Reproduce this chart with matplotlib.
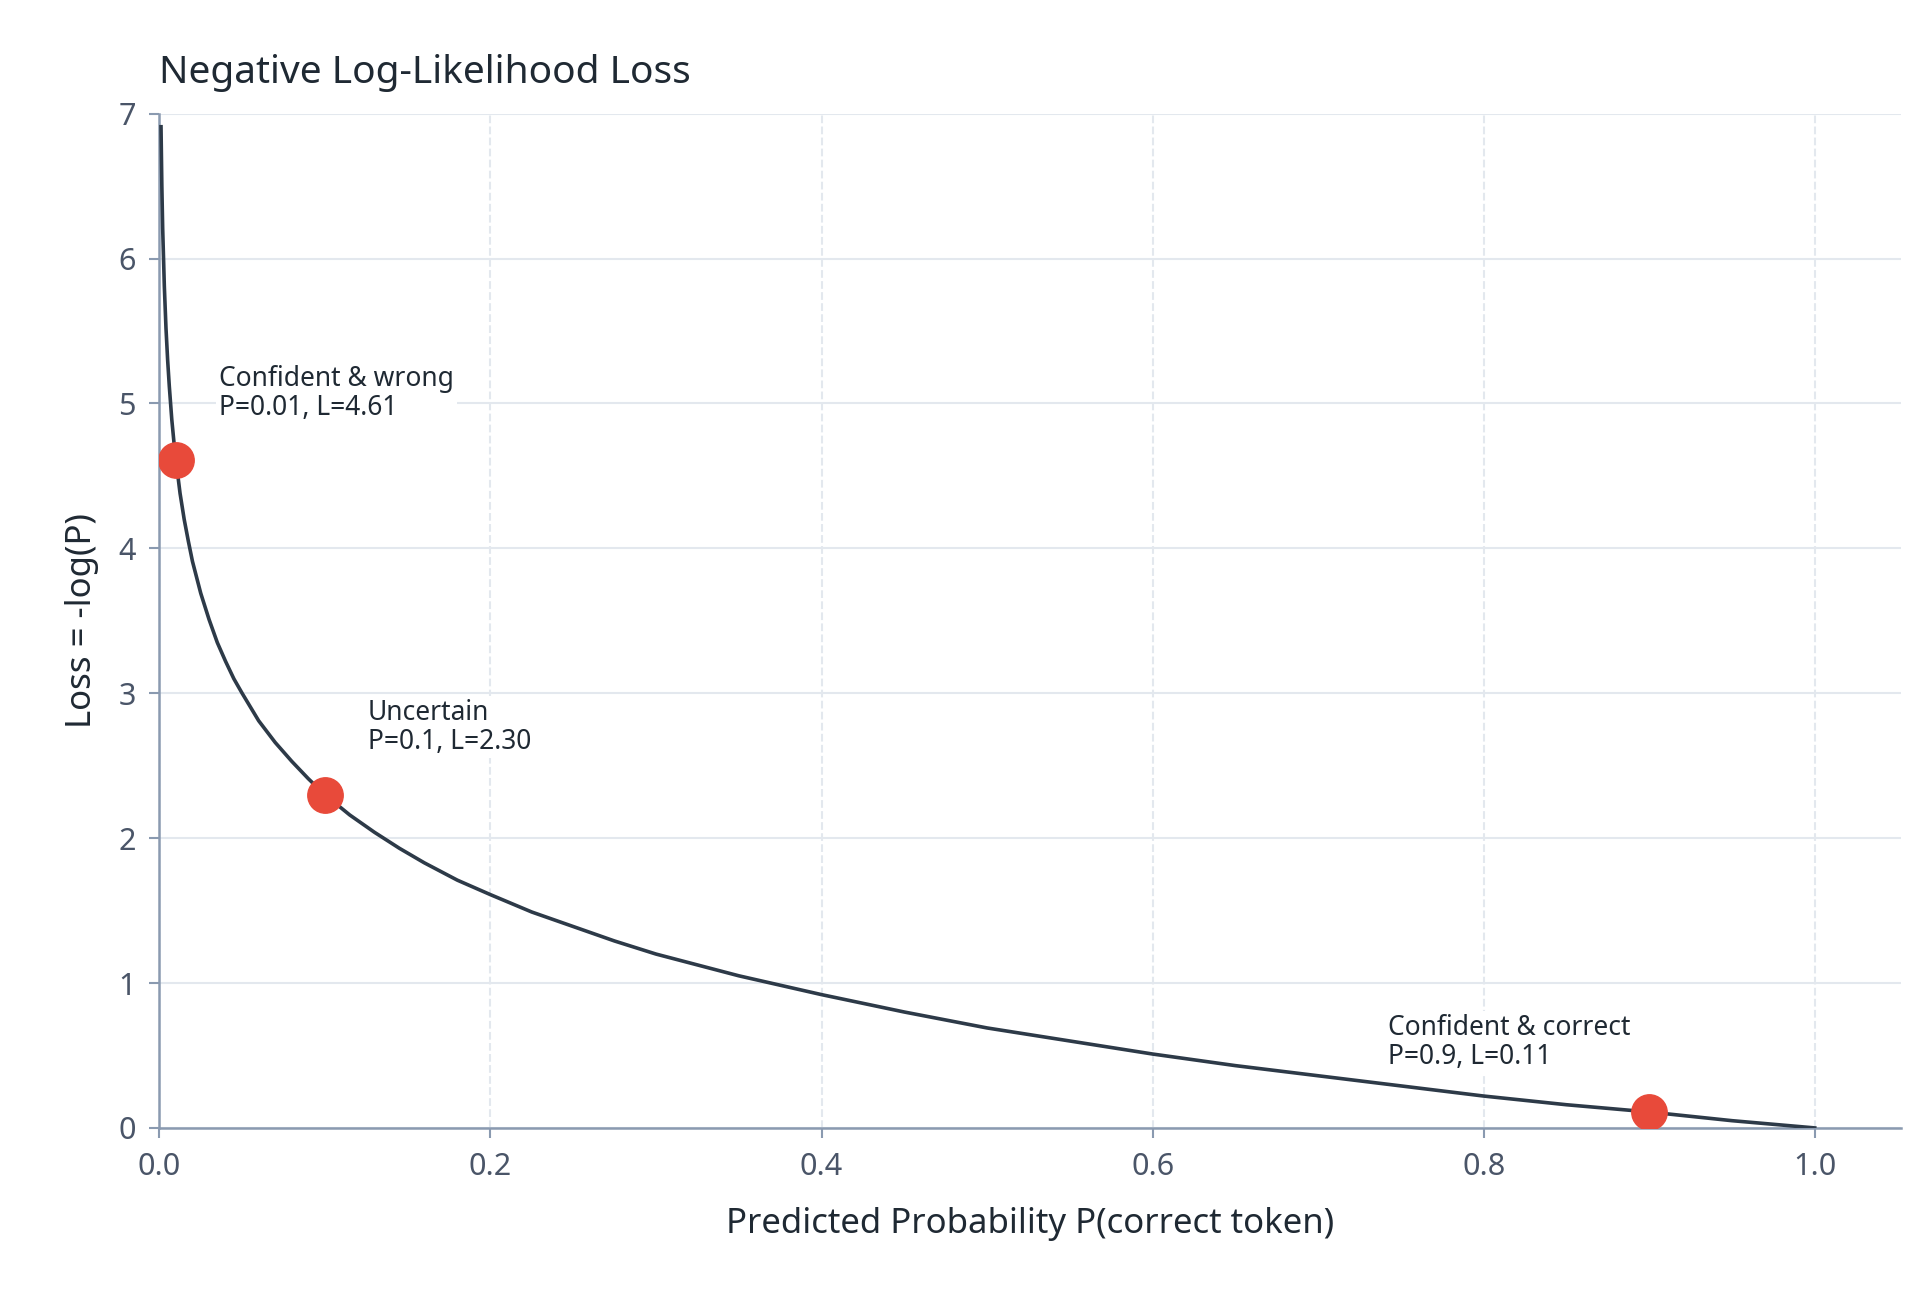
import matplotlib
matplotlib.use("Agg")
import matplotlib.pyplot as plt

plt.rcParams['font.family'] = ['Noto Sans', 'DejaVu Sans']

# Curve points (loss = -log(P))
p_vals = [0.001, 0.0015, 0.002, 0.003, 0.004, 0.005, 0.006, 0.0075, 0.009, 0.01, 0.0125,
          0.015, 0.0175, 0.02, 0.025, 0.03, 0.035, 0.04, 0.045, 0.05, 0.06, 0.07, 0.08,
          0.09, 0.1, 0.115, 0.13, 0.145, 0.16, 0.18, 0.2, 0.225, 0.25, 0.275, 0.3, 0.35,
          0.4, 0.45, 0.5, 0.55, 0.6, 0.65, 0.7, 0.75, 0.8, 0.85, 0.9, 0.95, 1.0]
loss_vals = [6.91, 6.50, 6.21, 5.81, 5.52, 5.30, 5.12, 4.89, 4.71, 4.61, 4.38,
             4.20, 4.05, 3.91, 3.69, 3.51, 3.35, 3.22, 3.10, 3.00, 2.81, 2.66, 2.53,
             2.41, 2.30, 2.16, 2.04, 1.93, 1.83, 1.71, 1.61, 1.49, 1.39, 1.29, 1.20, 1.05,
             0.92, 0.80, 0.69, 0.60, 0.51, 0.43, 0.36, 0.29, 0.22, 0.16, 0.11, 0.05, 0.0]

point_p = [0.01, 0.1, 0.9]
point_loss = [4.61, 2.30, 0.11]
point_labels = ["Confident & wrong\nP=0.01, L=4.61",
                "Uncertain\nP=0.1, L=2.30",
                "Confident & correct\nP=0.9, L=0.11"]
label_pos = [(0.036, 4.87), (0.126, 2.57), (0.742, 0.39)]

fig = plt.figure(figsize=(19.2, 12.92), dpi=100)
ax = fig.add_axes([0.083, 0.127, 0.907, 0.785])

ax.plot(p_vals, loss_vals, color="#2d3a48", linewidth=2.6, zorder=3)
ax.scatter(point_p, point_loss, s=650, color="#e84a3a", zorder=4)
for (x, y), txt in zip(label_pos, point_labels):
    ax.text(x, y, txt, fontsize=19, color="#1f2933", va="bottom", ha="left",
            linespacing=1.05, bbox=dict(facecolor="white", edgecolor="none", pad=2))

ax.set_xlim(0, 1.052)
ax.set_ylim(0, 7)
ax.set_xticks([0.0, 0.2, 0.4, 0.6, 0.8, 1.0])
ax.set_yticks(range(8))
ax.grid(axis="y", color="#e3e8ee", linewidth=1.5)
ax.grid(axis="x", color="#e3e8ee", linewidth=1.5, linestyle="--")
ax.set_axisbelow(True)
for s in ["top", "right"]:
    ax.spines[s].set_visible(False)
for s in ["left", "bottom"]:
    ax.spines[s].set_color("#8a9ab0")
    ax.spines[s].set_linewidth(1.8)
ax.tick_params(colors="#8a9ab0", labelcolor="#4a5568", labelsize=22, length=7,
               width=1.5, pad=10)

ax.set_xlabel("Predicted Probability P(correct token)", fontsize=25, color="#1f2933", labelpad=18)
ax.set_ylabel("Loss = -log(P)", fontsize=25, color="#1f2933", labelpad=14)
ax.set_title("Negative Log-Likelihood Loss", fontsize=28, color="#1f2933", loc="left", pad=22)

fig.savefig("out.png", dpi=100)
